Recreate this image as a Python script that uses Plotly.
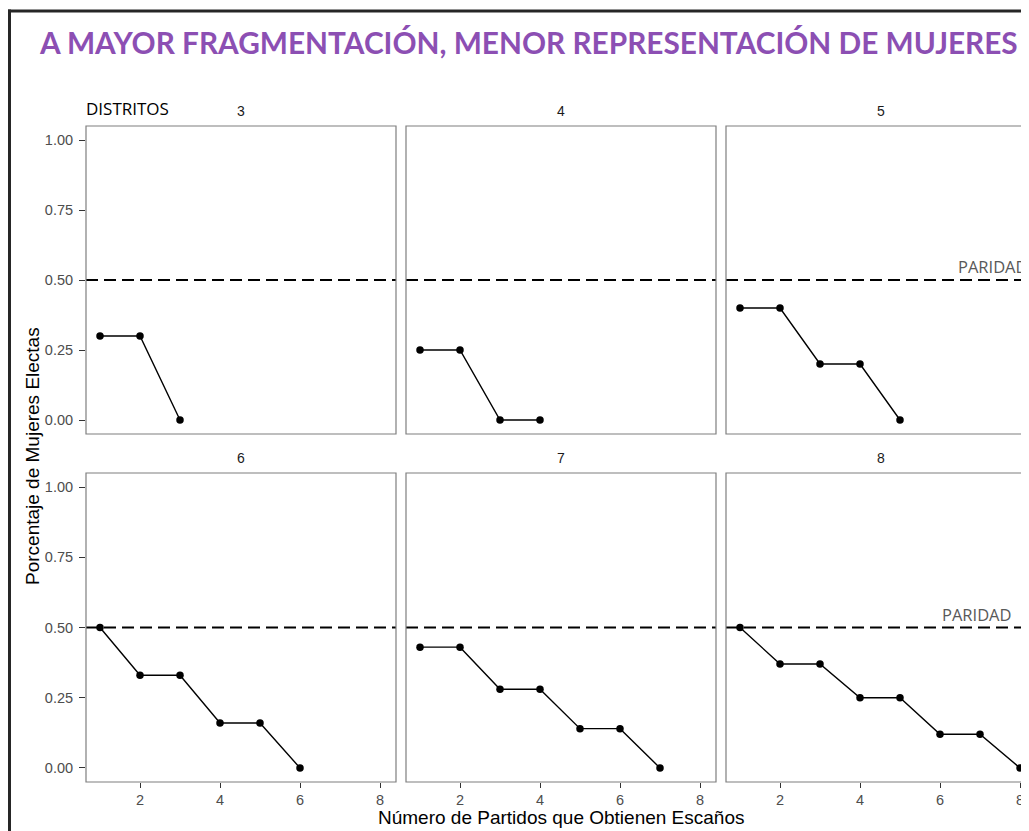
import plotly.graph_objects as go

W, H = 1029, 831
OFF = 8  # page body margin offset (pixels)

# ---------------- data ----------------
distritos = ["3", "4", "5", "6", "7", "8"]
partidos_3 = [1, 2, 3]
mujeres_3 = [0.30, 0.30, 0.00]
partidos_4 = [1, 2, 3, 4]
mujeres_4 = [0.25, 0.25, 0.00, 0.00]
partidos_5 = [1, 2, 3, 4, 5]
mujeres_5 = [0.40, 0.40, 0.20, 0.20, 0.00]
partidos_6 = [1, 2, 3, 4, 5, 6]
mujeres_6 = [0.50, 0.33, 0.33, 0.16, 0.16, 0.00]
partidos_7 = [1, 2, 3, 4, 5, 6, 7]
mujeres_7 = [0.43, 0.43, 0.28, 0.28, 0.14, 0.14, 0.00]
partidos_8 = [1, 2, 3, 4, 5, 6, 7, 8]
mujeres_8 = [0.50, 0.37, 0.37, 0.25, 0.25, 0.12, 0.12, 0.00]

paridad = 0.5
x_tick_vals = [2, 4, 6, 8]
y_tick_vals = [0.0, 0.25, 0.50, 0.75, 1.00]
y_tick_text = ["0.00", "0.25", "0.50", "0.75", "1.00"]

series_x = [partidos_3, partidos_4, partidos_5, partidos_6, partidos_7, partidos_8]
series_y = [mujeres_3, mujeres_4, mujeres_5, mujeres_6, mujeres_7, mujeres_8]

title_text = "A MAYOR FRAGMENTACIÓN, MENOR REPRESENTACIÓN DE MUJERES"
x_title = "Número de Partidos que Obtienen Escaños"
y_title = "Porcentaje de Mujeres Electas"
paridad_label = "PARIDAD"
distritos_label = "DISTRITOS"


def sx(px):
    return (px - OFF) / W


def sy(py):
    return 1 - (py - OFF) / H


# ---------------- layout geometry (screen pixels) ----------------
col_left = [86, 406, 726]
panel_w = 310
row_top = [126, 473]
row_bot = [434, 782]
px_per_unit = 40.0
x_min = 0.65
y_range = [-0.05, 1.05]

ARIAL = "Liberation Sans, Arial, Helvetica, sans-serif"
TICK_FONT = dict(family=ARIAL, size=14.5, color="#4d4d4d")

fig = go.Figure()
layout = dict(
    width=W, height=H,
    margin=dict(l=0, r=0, t=0, b=0),
    paper_bgcolor="white", plot_bgcolor="white",
    showlegend=False,
)
shapes = []
annotations = []

for i in range(6):
    n = i + 1
    r, c = divmod(i, 3)
    l = col_left[c]
    rr = l + panel_w
    xa = "x" if n == 1 else f"x{n}"
    ya = "y" if n == 1 else f"y{n}"
    xk = "xaxis" if n == 1 else f"xaxis{n}"
    yk = "yaxis" if n == 1 else f"yaxis{n}"

    layout[xk] = dict(
        domain=[sx(l), min(sx(rr), 1.0)],
        range=[x_min, x_min + (min(rr - OFF, W) - (l - OFF)) / px_per_unit],
        anchor=ya,
        showgrid=False, zeroline=False, showline=False,
        tickvals=x_tick_vals,
        ticks="outside" if r == 1 else "",
        ticklen=5, tickwidth=1.2, tickcolor="#333333",
        showticklabels=(r == 1),
        ticklabelstandoff=0,
        tickfont=TICK_FONT,
    )
    layout[yk] = dict(
        domain=[sy(row_bot[r]), sy(row_top[r])],
        range=y_range,
        anchor=xa,
        showgrid=False, zeroline=False, showline=False,
        tickvals=y_tick_vals, ticktext=y_tick_text,
        ticks="outside" if c == 0 else "",
        ticklen=6, tickwidth=1.2, tickcolor="#333333",
        showticklabels=(c == 0),
        ticklabelstandoff=3,
        tickfont=TICK_FONT,
    )

    # dashed parity line
    shapes.append(dict(
        type="line", xref=f"{xa} domain", yref=ya,
        x0=0, x1=1, y0=paridad, y1=paridad,
        line=dict(color="black", width=1.8, dash="12px,6px"),
        layer="below",
    ))
    # panel border
    shapes.append(dict(
        type="rect", xref="paper", yref="paper",
        x0=sx(l), x1=sx(rr),
        y0=sy(row_bot[r]), y1=sy(row_top[r]),
        line=dict(color="#7f7f7f", width=1.2), fillcolor="rgba(0,0,0,0)",
        layer="above",
    ))
    # strip label
    annotations.append(dict(
        text=distritos[i], xref="paper", yref="paper",
        x=sx(l + panel_w / 2), y=sy(row_top[r] - 15),
        xanchor="center", yanchor="middle", showarrow=False,
        font=dict(family=ARIAL, size=14, color="#1a1a1a"),
    ))

    fig.add_trace(go.Scatter(
        x=series_x[i], y=series_y[i], xaxis=xa, yaxis=ya,
        mode="lines+markers",
        line=dict(color="black", width=1.4),
        marker=dict(color="black", size=7.5),
        cliponaxis=False,
    ))

# PARIDAD labels
annotations.append(dict(
    text=paridad_label, xref="paper", yref="paper", x=sx(956), y=sy(266),
    xanchor="left", yanchor="middle", showarrow=False,
    font=dict(family="Open Sans, sans-serif", size=16.5, color="#595959"),
))
annotations.append(dict(
    text=paridad_label, xref="paper", yref="paper", x=sx(940), y=sy(614),
    xanchor="left", yanchor="middle", showarrow=False,
    font=dict(family="Open Sans, sans-serif", size=16.5, color="#595959"),
))
# DISTRITOS label
annotations.append(dict(
    text=distritos_label, xref="paper", yref="paper", x=sx(84), y=sy(109),
    xanchor="left", yanchor="middle", showarrow=False,
    font=dict(family="Open Sans, sans-serif", size=17, color="black"),
))
# title
annotations.append(dict(
    text=f"<b>{title_text}</b>", xref="paper", yref="paper", x=sx(37), y=sy(43),
    xanchor="left", yanchor="middle", showarrow=False,
    font=dict(family="Lato, sans-serif", size=29.8, color="#8c4fb3"),
))
# axis titles
annotations.append(dict(
    text=x_title, xref="paper", yref="paper", x=sx(561), y=sy(817),
    xanchor="center", yanchor="middle", showarrow=False,
    font=dict(family=ARIAL, size=19, color="black"),
))
annotations.append(dict(
    text=y_title, xref="paper", yref="paper", x=sx(33), y=sy(456),
    xanchor="center", yanchor="middle", showarrow=False, textangle=-90,
    font=dict(family=ARIAL, size=19, color="black"),
))

# outer frame (cropped on right/bottom)
shapes.append(dict(
    type="line", xref="paper", yref="paper",
    x0=sx(9.5), x1=sx(9.5), y0=sy(9.5), y1=-0.05,
    line=dict(color="#262626", width=3),
))
shapes.append(dict(
    type="line", xref="paper", yref="paper",
    x0=sx(8), x1=1.05, y0=sy(11), y1=sy(11),
    line=dict(color="#262626", width=3),
))

layout["shapes"] = shapes
layout["annotations"] = annotations
fig.update_layout(**layout)

fig.write_html("out.html")
